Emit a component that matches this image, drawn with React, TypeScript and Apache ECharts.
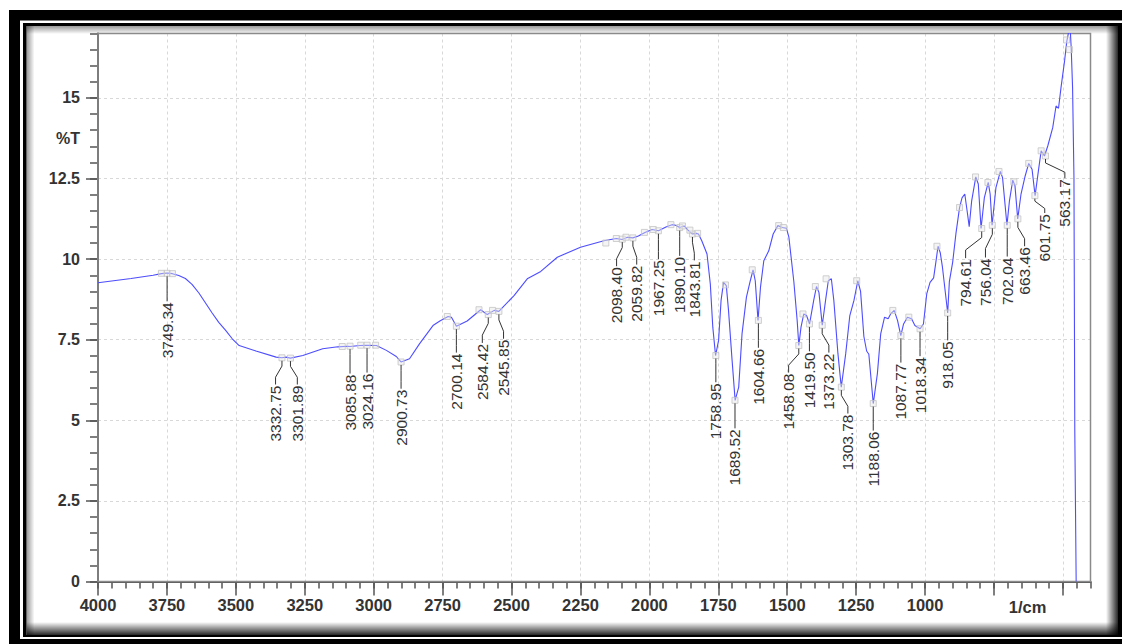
import React, { useEffect, useRef } from "react";
import * as echarts from "echarts";

// ---- spectrum (wavenumber in 1/cm, transmittance in %T) ----
const wavenumber = [
  4000, 3880, 3800, 3770, 3749, 3730, 3707, 3683, 3659, 3634, 3610, 3586, 3562, 3537, 3513, 3488, 3427, 3354, 3333, 3318,
  3302, 3257, 3185, 3130, 3094, 3086, 3050, 3024, 2990, 2954, 2918, 2901, 2870, 2834, 2785, 2760, 2730, 2718, 2700, 2661,
  2612, 2588, 2563, 2546, 2491, 2443, 2394, 2334, 2250, 2165, 2120, 2098, 2080, 2060, 2040, 2016, 1990, 1967, 1940, 1918,
  1905, 1890, 1874, 1860, 1844, 1830, 1822, 1810, 1791, 1779, 1770, 1760, 1749, 1740, 1731, 1721, 1713, 1700, 1689, 1676,
  1664, 1648, 1634, 1624, 1616, 1606, 1597, 1585, 1567, 1551, 1534, 1518, 1503, 1494, 1476, 1464, 1458, 1450, 1440, 1430,
  1419, 1404, 1394, 1385, 1373, 1361, 1351, 1340, 1331, 1316, 1304, 1288, 1273, 1258, 1244, 1234, 1222, 1212, 1204, 1188,
  1173, 1161, 1147, 1134, 1125, 1112, 1100, 1088, 1078, 1064, 1049, 1037, 1018, 1006, 994, 982, 969, 961, 953, 945,
  937, 918, 912, 900, 888, 875, 866, 856, 846, 840, 831, 816, 807, 797, 785, 771, 764, 757, 743, 727,
  719, 703, 694, 682, 674, 664, 652, 637, 624, 612, 601, 589, 579, 567, 555, 537, 525, 516, 507, 494,
  486, 478, 473, 470, 465, 460, 457, 452,
];
const transmittance = [
  9.27, 9.4, 9.5, 9.55, 9.57, 9.55, 9.49, 9.4, 9.22, 8.95, 8.64, 8.33, 8.04, 7.79, 7.53, 7.32, 7.15, 6.96, 6.94, 6.96,
  6.93, 7.01, 7.22, 7.28, 7.3, 7.29, 7.32, 7.33, 7.32, 7.17, 6.98, 6.81, 6.91, 7.37, 7.94, 8.08, 8.22, 8.2, 7.92, 8.08,
  8.43, 8.28, 8.41, 8.38, 8.87, 9.39, 9.62, 10.06, 10.37, 10.57, 10.64, 10.61, 10.68, 10.66, 10.72, 10.83, 10.92, 10.88, 11.0, 11.07,
  11.05, 10.98, 11.03, 10.9, 10.78, 10.8, 10.78, 10.57, 10.16, 9.23, 7.89, 7.01, 7.48, 8.72, 9.28, 9.18, 8.41, 6.86, 5.62, 6.03,
  7.68, 8.82, 9.33, 9.67, 9.33, 8.1, 9.13, 9.95, 10.26, 10.78, 11.04, 10.98, 10.96, 10.68, 9.3, 8.1, 7.32, 7.89, 8.3, 8.25,
  7.99, 8.72, 9.15, 8.97, 7.95, 8.72, 9.33, 9.39, 8.72, 7.06, 6.03, 7.06, 8.25, 8.72, 9.33, 9.0, 7.6, 7.15, 7.05, 5.52,
  6.45, 7.68, 8.2, 8.15, 8.3, 8.41, 8.1, 7.63, 7.99, 8.2, 8.15, 7.94, 7.84, 7.99, 8.92, 9.28, 9.42, 9.9, 10.4, 10.2,
  9.75, 8.33, 9.3, 9.9, 10.8, 11.6, 11.9, 12.02, 11.4, 11.01, 11.81, 12.55, 12.33, 10.95, 11.91, 12.38, 12.02, 11.05, 12.22, 12.72,
  12.53, 11.05, 11.81, 12.45, 12.28, 11.25, 12.02, 12.58, 12.97, 12.79, 11.97, 12.74, 13.36, 13.2, 13.51, 14.08, 14.75, 14.68, 15.32, 16.15,
  16.76, 17.1, 17.05, 16.56, 15.32, 12.53, 4.7, 0,
];

// ---- peak annotations ----
const peakLabels = [
  "3749.34", "3332.75", "3301.89", "3085.88", "3024.16", "2900.73", "2700.14", "2584.42", "2545.85", "2098.40",
  "2059.82", "1967.25", "1890.10", "1843.81", "1758.95", "1689.52", "1604.66", "1458.08", "1419.50", "1373.22",
  "1303.78", "1188.06", "1087.77", "1018.34", "918.05", "794.61", "756.04", "702.04", "663.46", "601.75", "563.17",
];
const peakT = [
  9.56, 6.94, 6.93, 7.3, 7.33, 6.81, 7.92, 8.28, 8.38, 10.62,
  10.66, 10.88, 10.98, 10.78, 7.01, 5.62, 8.1, 7.32, 7.99, 7.95,
  6.03, 5.52, 7.63, 7.84, 8.33, 10.95, 11.05, 11.05, 11.25, 11.97, 13.2,
];
// where each label text sits (wavenumber of its axis, %T of its top end)
const labelWn = [
  3749.34, 3356, 3277, 3085.88, 3024.16, 2900.73, 2700.14, 2606, 2529, 2119,
  2046, 1967.25, 1890.1, 1837, 1758.95, 1689.52, 1604.66, 1495, 1419.5, 1349,
  1280, 1188.06, 1087.77, 1018.34, 918.05, 853, 781, 702.04, 639, 566, 493,
];
const labelT = [
  8.66, 6.08, 6.08, 6.42, 6.45, 5.95, 7.07, 7.37, 7.5, 9.75,
  9.8, 9.97, 10.07, 9.93, 6.15, 4.72, 7.22, 6.45, 7.11, 7.07,
  5.18, 4.65, 6.76, 6.96, 7.45, 10.0, 10.02, 10.05, 10.37, 11.4, 12.48,
];

// extra peak-pick boxes (unlabelled)
const markerWn = [
  3770, 3730, 3114, 3047, 2993, 2733, 2618, 2569, 2158, 2120, 2085, 2018, 1986, 1922, 1880, 1853, 1825, 1724, 1627, 1531,
  1514, 1443, 1398, 1359, 1248, 1117, 1059, 957, 875, 817, 772, 732, 678, 624, 579, 487, 476,
];
const markerT = [
  9.56, 9.55, 7.29, 7.33, 7.33, 8.22, 8.43, 8.41, 10.5, 10.64, 10.68, 10.83, 10.92, 11.07, 11.03, 10.9, 10.8, 9.2, 9.67, 11.04,
  10.98, 8.3, 9.15, 9.39, 9.33, 8.41, 8.2, 10.4, 11.6, 12.55, 12.38, 12.72, 12.4, 12.97, 13.36, 16.8, 16.5,
];

// ---- axes ----
const xMajorTicks = [4000, 3750, 3500, 3250, 3000, 2750, 2500, 2250, 2000, 1750, 1500, 1250, 1000, 750, 500];
const xTickLabels = [4000, 3750, 3500, 3250, 3000, 2750, 2500, 2250, 2000, 1750, 1500, 1250, 1000];
const yMajorTicks = [0, 2.5, 5, 7.5, 10, 12.5, 15];
const X_MIN = 400;
const X_MAX = 4000;
const Y_MIN = 0;
const Y_MAX = 17;
const xAxisTitle = "1/cm";
const yAxisTitle = "%T";

const FONT = "'Liberation Sans', Arial, sans-serif";
const AXIS_COLOR = "#555";

export default function App() {
  const ref = useRef<HTMLDivElement>(null);

  useEffect(() => {
    document.body.style.margin = "0";
    if (!ref.current) return;
    const chart = echarts.init(ref.current, null, { renderer: "svg" });

    const lineData = wavenumber.map((w, i) => [w, transmittance[i]]);
    const annoData = peakLabels.map((l, i) => [parseFloat(l), peakT[i], labelWn[i], labelT[i]]);
    const boxData = [
      ...peakLabels.map((l, i) => [parseFloat(l), peakT[i]]),
      ...markerWn.map((w, i) => [w, markerT[i]]),
    ];

    const sideGrad = (x0: number, y0: number, x1: number, y1: number, a0: number, a1: number) =>
      new echarts.graphic.LinearGradient(x0, y0, x1, y1, [
        { offset: 0, color: `rgba(0,0,0,${a0})` },
        { offset: 1, color: `rgba(0,0,0,${a1})` },
      ]);

    const option: any = {
      animation: false,
      backgroundColor: "#fff",
      textStyle: { fontFamily: FONT },
      grid: {
        left: 98,
        top: 33.5,
        width: 992.5,
        height: 548,
        show: true,
        borderColor: "#8a8a8a",
        borderWidth: 1.5,
        backgroundColor: "transparent",
        containLabel: false,
        outerBoundsMode: "none",
        z: 1,
      },
      graphic: {
        elements: [
          { type: "rect", silent: true, z: -20, shape: { x: 9, y: 10, width: 1130, height: 650 }, style: { fill: "#000" } },
          { type: "rect", silent: true, z: -19, shape: { x: 20, y: 20.5, width: 1120, height: 618.5 }, style: { fill: "#fff" } },
          { type: "rect", silent: true, z: -18, shape: { x: 23, y: 23, width: 1120, height: 614 }, style: { fill: "#000" } },
          { type: "rect", silent: true, z: -17, shape: { x: 26.5, y: 26, width: 1091.5, height: 609 }, style: { fill: "#fff" } },
          { type: "rect", silent: true, z: -16, shape: { x: 26.5, y: 26, width: 8, height: 609 }, style: { fill: sideGrad(0, 0, 1, 0, 0.4, 0) } },
          { type: "rect", silent: true, z: -16, shape: { x: 26.5, y: 26, width: 1091.5, height: 8 }, style: { fill: sideGrad(0, 0, 0, 1, 0.4, 0) } },
          { type: "rect", silent: true, z: -16, shape: { x: 1106, y: 26, width: 12, height: 609 }, style: { fill: sideGrad(0, 0, 1, 0, 0, 0.85) } },
          { type: "rect", silent: true, z: -16, shape: { x: 26.5, y: 622, width: 1091.5, height: 13 }, style: { fill: sideGrad(0, 0, 0, 1, 0, 0.85) } },
          {
            type: "text", silent: true, z: 10, x: 80, y: 138,
            style: { text: yAxisTitle, align: "right", verticalAlign: "middle", fontSize: 16, fontWeight: "bold", fontFamily: FONT, fill: "#333" },
          },
          {
            type: "text", silent: true, z: 10, x: 1027.5, y: 606.5,
            style: { text: xAxisTitle, align: "center", verticalAlign: "middle", fontSize: 16.5, fontWeight: "bold", fontFamily: FONT, fill: "#333" },
          },
        ],
      },
      xAxis: [
        {
          type: "value",
          min: X_MIN,
          max: X_MAX,
          inverse: true,
          position: "bottom",
          axisLine: { show: true, onZero: false, lineStyle: { color: AXIS_COLOR, width: 2 } },
          axisTick: { show: true, customValues: xMajorTicks, length: 14, lineStyle: { color: AXIS_COLOR, width: 1.5 } },
          axisLabel: {
            show: true,
            customValues: xTickLabels,
            formatter: (v: number) => String(v),
            fontSize: 16.5,
            fontWeight: "bold",
            fontFamily: FONT,
            color: "#333",
            margin: 15,
          },
          splitLine: { show: true, lineStyle: { color: "#d8d8d8", type: [3, 3], width: 1 } },
        },
        {
          type: "value",
          min: X_MIN,
          max: X_MAX,
          interval: 50,
          inverse: true,
          position: "bottom",
          axisLine: { show: false },
          axisTick: { show: true, length: 7, lineStyle: { color: AXIS_COLOR, width: 1.5 } },
          axisLabel: { show: false },
          splitLine: { show: false },
        },
      ],
      yAxis: [
        {
          type: "value",
          min: Y_MIN,
          max: Y_MAX,
          position: "left",
          axisLine: { show: true, onZero: false, lineStyle: { color: AXIS_COLOR, width: 2 } },
          axisTick: { show: true, customValues: yMajorTicks, length: 12, lineStyle: { color: AXIS_COLOR, width: 1.5 } },
          axisLabel: {
            show: true,
            customValues: yMajorTicks,
            formatter: (v: number) => String(v),
            fontSize: 16,
            fontWeight: "bold",
            fontFamily: FONT,
            color: "#333",
            margin: 18,
          },
          splitLine: { show: true, lineStyle: { color: "#d8d8d8", type: [3, 3], width: 1 } },
        },
        {
          type: "value",
          min: Y_MIN,
          max: Y_MAX,
          interval: 0.5,
          position: "left",
          axisLine: { show: false },
          axisTick: { show: true, length: 8, lineStyle: { color: AXIS_COLOR, width: 1.5 } },
          axisLabel: { show: false },
          splitLine: { show: false },
        },
      ],
      series: [
        {
          type: "line",
          data: lineData,
          xAxisIndex: 0,
          yAxisIndex: 0,
          showSymbol: false,
          symbol: "none",
          clip: true,
          lineStyle: { color: "#4d4dff", width: 1.1 },
          z: 2,
        },
        {
          type: "scatter",
          data: boxData,
          xAxisIndex: 0,
          yAxisIndex: 0,
          symbol: "rect",
          symbolSize: 6,
          silent: true,
          itemStyle: { color: "rgba(230,230,230,0.55)", borderColor: "#c4c4c4", borderWidth: 1 },
          z: 3,
        },
        {
          type: "custom",
          xAxisIndex: 0,
          yAxisIndex: 0,
          data: annoData,
          dimensions: ["wn", "t", "lx", "lt"],
          encode: { x: 0, y: 1 },
          silent: true,
          z: 4,
          renderItem: (params: any, api: any) => {
            const p = api.coord([api.value(0), api.value(1)]);
            const t = api.coord([api.value(2), api.value(3)]);
            const gap = t[1] - p[1];
            const y0 = p[1] + 3;
            const y1 = p[1] + Math.min(9, gap * 0.3);
            const y2 = t[1] - Math.min(10, gap * 0.3);
            const y3 = t[1] - 1;
            return {
              type: "group",
              children: [
                {
                  type: "polyline",
                  shape: { points: [[p[0], y0], [p[0], y1], [t[0], y2], [t[0], y3]] },
                  style: { stroke: "#333", lineWidth: 1, fill: null },
                },
                {
                  type: "text",
                  x: t[0],
                  y: t[1],
                  rotation: Math.PI / 2,
                  style: {
                    text: peakLabels[params.dataIndex],
                    align: "right",
                    verticalAlign: "middle",
                    fontSize: 15.5,
                    fontFamily: FONT,
                    fill: "#333",
                  },
                },
              ],
            };
          },
        },
      ],
    };

    chart.setOption(option);
    return () => {
      chart.dispose();
    };
  }, []);

  return <div ref={ref} style={{ width: 1122, height: 644 }} />;
}
